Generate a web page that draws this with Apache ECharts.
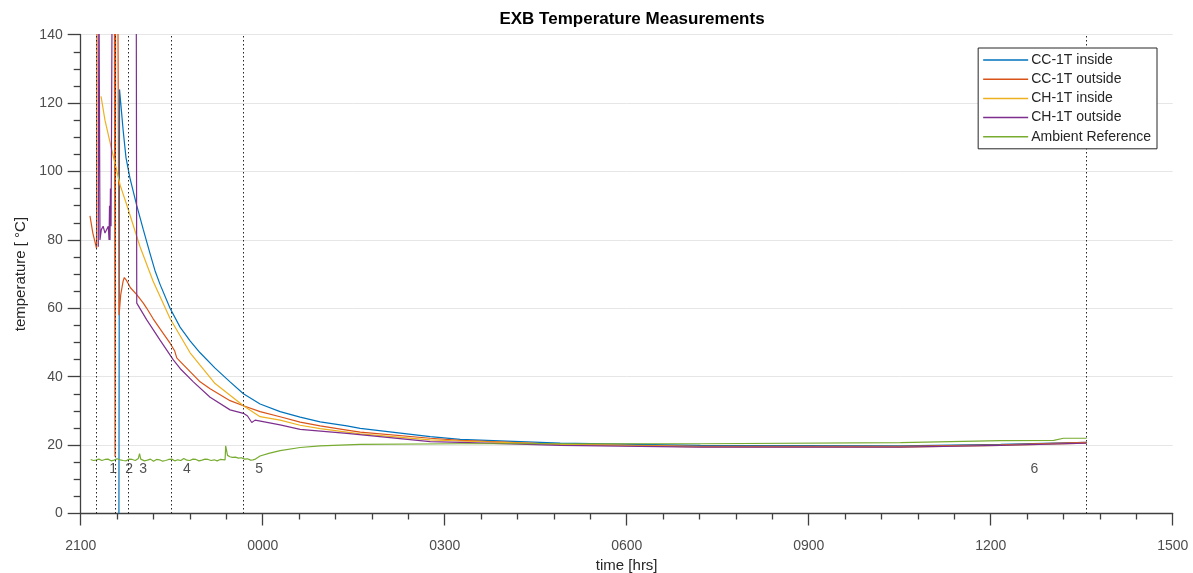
<!DOCTYPE html>
<html>
<head>
<meta charset="utf-8">
<title>EXB Temperature Measurements</title>
<script src="https://cdn.jsdelivr.net/npm/echarts@6/dist/echarts.min.js"></script>
<style>
  html, body { margin: 0; padding: 0; background: #fff; }
  #chart { width: 1193px; height: 573px; }
</style>
</head>
<body>
<div id="chart"></div>
<script>
// time is in hours after 21:00
var timeLabels = ['2100', '0000', '0300', '0600', '0900', '1200', '1500'];

var ccInside = [
  [0.63, 0], [0.64, 124], [0.66, 120], [0.70, 112], [0.747, 104], [0.813, 98],
  [0.924, 90], [1.032, 83], [1.143, 76], [1.225, 71], [1.308, 67], [1.473, 60],
  [1.638, 54.5], [1.803, 50.5], [1.968, 47], [2.215, 42.5], [2.462, 38.5], [2.682, 35],
  [2.957, 32], [3.287, 29.8], [3.617, 28.2], [3.947, 26.8], [4.387, 25.6], [4.607, 24.9],
  [5.761, 22.5], [6.256, 21.7], [7.905, 20.6], [10.215, 19.9], [13.514, 19.8],
  [15.163, 20.2], [16.581, 20.8]
];

var ccOutside = [
  [0.153, 87], [0.20, 82], [0.261, 77.5], [0.27, 160], [0.555, 160], [0.566, 16.6],
  [0.575, 160], [0.60, 160], [0.615, 140], [0.632, 58], [0.66, 64], [0.70, 68],
  [0.719, 69], [0.76, 68], [0.82, 66], [0.924, 64], [1.032, 61.5], [1.089, 60],
  [1.192, 57], [1.308, 54], [1.473, 49.8], [1.55, 47.5], [1.583, 45.5], [1.638, 44.5],
  [1.803, 41.5], [1.968, 38.5], [2.133, 36.5], [2.462, 33], [2.682, 31.5], [2.957, 29.8],
  [3.287, 28.3], [3.617, 26.7], [3.947, 25.6], [4.387, 24.4], [4.607, 23.8], [5.761, 22],
  [6.256, 21.4], [7.905, 20.2], [10.215, 19.6], [13.514, 19.6], [15.163, 20.1], [16.581, 20.8]
];

var chInside = [
  [0.335, 122], [0.40, 115], [0.516, 106], [0.65, 96], [0.764, 90], [0.978, 78],
  [1.192, 68], [1.473, 57], [1.803, 47], [2.215, 38], [2.682, 31.5], [2.957, 28.3],
  [3.287, 27.3], [3.617, 25.8], [3.947, 24.8], [4.607, 23.3], [5.761, 21.5], [6.256, 21.2],
  [7.905, 20.2], [10.215, 19.5], [13.514, 19.4], [15.163, 19.9], [16.581, 20.6]
];

var chOutside = [
  [0.29, 78], [0.30, 160], [0.31, 160], [0.318, 80], [0.34, 83], [0.37, 84], [0.40, 82],
  [0.43, 81.5], [0.455, 84], [0.467, 80], [0.475, 90], [0.483, 80], [0.49, 95], [0.50, 84],
  [0.505, 100], [0.52, 160], [0.915, 160], [0.924, 61.5], [1.089, 56.6], [1.308, 50.7],
  [1.527, 44.9], [1.638, 42.4], [1.857, 38.5], [2.133, 34], [2.462, 30.3], [2.682, 29.3],
  [2.75, 28.5], [2.82, 26.6], [2.875, 27.3], [3.287, 25.9], [3.617, 24.6], [4.387, 23.4],
  [5.761, 21], [6.256, 20.8], [7.905, 19.9], [10.215, 19.4], [13.514, 19.4], [15.163, 19.9],
  [16.581, 20.6]
];

var ambient = [
  [0.165, 15.8], [0.21, 15.5], [0.25, 15.6], [0.30, 15.9], [0.35, 15.5], [0.40, 15.8],
  [0.45, 15.9], [0.50, 15.4], [0.55, 15.6], [0.60, 16.0], [0.65, 15.7], [0.70, 15.5],
  [0.75, 15.4], [0.80, 15.9], [0.85, 15.8], [0.90, 15.5], [0.95, 16.1], [0.97, 17.5],
  [0.99, 15.9], [1.05, 15.4], [1.1, 15.6], [1.15, 15.9], [1.2, 15.3], [1.25, 15.8],
  [1.3, 15.7], [1.35, 15.3], [1.4, 15.5], [1.45, 15.8], [1.5, 15.9], [1.55, 15.4],
  [1.6, 15.7], [1.65, 15.5], [1.7, 16.1], [1.75, 15.6], [1.8, 15.5], [1.85, 15.9],
  [1.9, 15.8], [1.95, 15.4], [2.0, 15.6], [2.05, 15.9], [2.1, 15.8], [2.15, 15.5],
  [2.2, 15.7], [2.25, 15.4], [2.3, 15.8], [2.38, 15.7], [2.39, 19.8], [2.42, 17],
  [2.46, 16.6], [2.5, 16.4], [2.55, 16.5], [2.6, 16.2], [2.65, 16.3], [2.7, 15.9],
  [2.75, 16.0], [2.8, 15.6], [2.84, 15.7], [2.88, 15.9], [2.957, 16.8], [3.1, 17.6],
  [3.287, 18.4], [3.617, 19.3], [3.947, 19.8], [4.607, 20.2], [6.256, 20.4], [10.215, 20.4],
  [13.514, 20.7], [15.163, 21.3], [16.04, 21.4], [16.2, 22], [16.581, 22]
];

// event markers: dotted lines and their numbers
var eventTimes = [0.264, 0.566, 0.785, 1.50, 2.68, 16.58];
var eventLabels = [[0.533, 13.1, '1'], [0.80, 13.1, '2'], [1.03, 13.1, '3'],
  [1.75, 13.1, '4'], [2.94, 13.1, '5'], [15.72, 13.1, '6']];

var seriesNames = ['CC-1T inside', 'CC-1T outside', 'CH-1T inside', 'CH-1T outside', 'Ambient Reference'];
var colors = ['#0072BD', '#D95319', '#EDB120', '#7E2F8E', '#77AC30'];
var seriesData = [ccInside, ccOutside, chInside, chOutside, ambient];

var font = '"Liberation Sans", Arial, Helvetica, sans-serif';
var textColor = '#262626';

var chart = echarts.init(document.getElementById('chart'));

var series = seriesData.map(function (d, i) {
  return {
    name: seriesNames[i],
    type: 'line',
    data: d,
    symbol: 'none',
    clip: true,
    lineStyle: { width: 1.2, color: colors[i] },
    itemStyle: { color: colors[i] },
    z: 3
  };
});

series.push({
  name: 'events',
  type: 'scatter',
  data: eventLabels.map(function (e) { return { value: [e[0], e[1]], label: { formatter: e[2] } }; }),
  symbolSize: 1,
  itemStyle: { color: 'rgba(0,0,0,0)' },
  silent: true,
  label: {
    show: true,
    position: 'inside',
    color: textColor,
    fontFamily: font,
    fontSize: 14
  },
  markLine: {
    silent: true,
    symbol: ['none', 'none'],
    label: { show: false },
    lineStyle: { color: '#262626', width: 1, type: [1.5, 2.5], opacity: 1 },
    emphasis: { disabled: true },
    data: eventTimes.map(function (t) { return { xAxis: t }; })
  },
  z: 4
});

var option = {
  animation: false,
  backgroundColor: '#fff',
  title: {
    text: 'EXB Temperature Measurements',
    left: 627,
    top: 6,
    textAlign: 'center',
    textStyle: { fontFamily: font, fontSize: 17, fontWeight: 'bold', color: '#000' }
  },
  legend: {
    data: seriesNames,
    orient: 'vertical',
    right: 36,
    top: 48,
    z: 10,
    icon: 'rect',
    itemWidth: 45,
    itemHeight: 1.5,
    itemGap: 5.2,
    padding: [5, 6, 5, 5],
    backgroundColor: '#fff',
    borderColor: '#262626',
    borderWidth: 1,
    borderRadius: 0,
    textStyle: { fontFamily: font, fontSize: 14, color: textColor, padding: [0, 0, 0, -2] }
  },
  grid: { left: 80.7, right: 20.3, top: 34.7, bottom: 59.5, containLabel: false, outerBoundsMode: 'none' },
  xAxis: {
    type: 'value',
    min: 0,
    max: 18,
    interval: 3,
    name: 'time [hrs]',
    nameLocation: 'middle',
    nameGap: 44,
    nameTextStyle: { fontFamily: font, fontSize: 15, color: textColor },
    axisLine: { show: true, lineStyle: { color: '#404040', width: 1.3 } },
    axisTick: { show: true, inside: false, length: 12, lineStyle: { color: '#404040', width: 1.3 } },
    minorTick: { show: true, splitNumber: 5, length: 6, lineStyle: { color: '#404040', width: 1.3 } },
    splitLine: { show: false },
    axisLabel: {
      margin: 26,
      fontFamily: font,
      fontSize: 14,
      color: '#4d4d4d',
      formatter: function (v) { return timeLabels[Math.round(v / 3)]; }
    }
  },
  yAxis: {
    type: 'value',
    min: 0,
    max: 140,
    interval: 20,
    name: 'temperature [ °C]',
    nameLocation: 'middle',
    nameGap: 52,
    nameTextStyle: { fontFamily: font, fontSize: 15, color: textColor },
    axisLine: { show: true, lineStyle: { color: '#404040', width: 1.3 } },
    axisTick: { show: true, inside: false, length: 13, lineStyle: { color: '#404040', width: 1.3 } },
    minorTick: { show: true, splitNumber: 4, length: 7, lineStyle: { color: '#404040', width: 1.3 } },
    splitLine: { show: true, lineStyle: { color: '#e6e6e6', width: 1 } },
    axisLabel: { margin: 18, fontFamily: font, fontSize: 14, color: '#4d4d4d' }
  },
  series: series
};

chart.setOption(option);
window.addEventListener('resize', function () { chart.resize(); });
</script>
</body>
</html>
